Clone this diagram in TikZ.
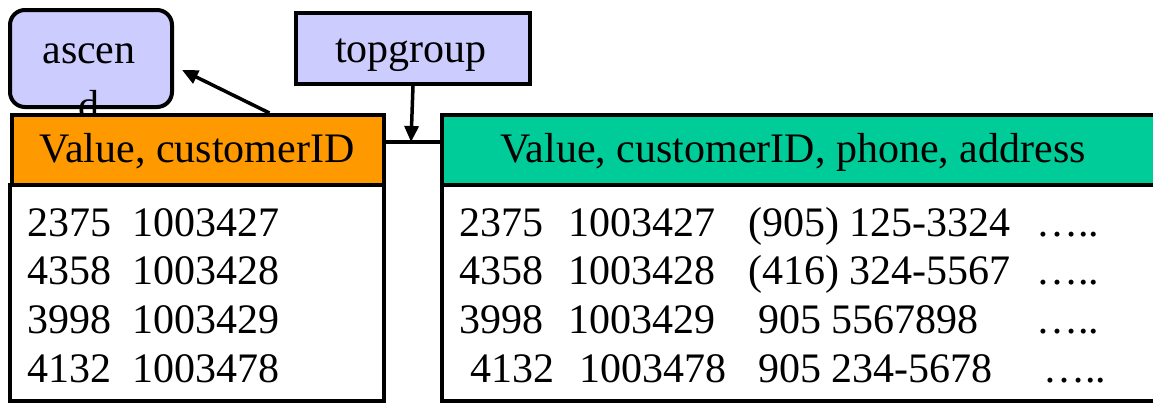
\documentclass[tikz,border=0pt]{standalone}
\usepackage{fontspec}
\setmainfont{Liberation Serif}
\usetikzlibrary{arrows.meta,calc}
\definecolor{lav}{HTML}{CCCCFF}
\definecolor{orng}{HTML}{FF9900}
\definecolor{teal2}{HTML}{00CC99}
\begin{document}
\begin{tikzpicture}[x=1pt,y=-1pt,
  every node/.style={font=\fontsize{42}{56}\selectfont, inner sep=0pt},
  box/.style={draw=black, line width=4pt, anchor=north west},
  lbl/.style={anchor=base west},
  arr/.style={line width=3.5pt, -{Triangle[length=16pt,width=14pt]}},
  ln/.style={line width=3.5pt}]
\useasboundingbox (0,0) rectangle (1153,402);
% ascend box
\node[box, fill=lav, rounded corners=15pt, minimum width=162pt, minimum height=97pt] (ascend) at (8,8) {};
\node[anchor=base] (asctxt) at (89,63) {\begin{tabular}[t]{@{}c@{}}ascen\\d\end{tabular}};
% topgroup box
\node[box, fill=lav, minimum width=234pt, minimum height=71pt] (topgroup) at (294,11) {};
\node[anchor=base] (tgtxt) at (411,62) {topgroup};
% left table
\node[box, fill=white, minimum width=374pt, minimum height=216pt] (bodyL) at (8,183) {};
\node[box, fill=orng, minimum width=372pt, minimum height=70pt] (hdrL) at (10,113) {};
\node[anchor=base] (hdrLtxt) at (197,162) {Value, customerID};
% right table
\node[box, fill=white, minimum width=730pt, minimum height=216pt] (bodyR) at (440,183) {};
\node[box, fill=teal2, minimum width=730pt, minimum height=70pt] (hdrR) at (440,113) {};
\node[anchor=base west] (hdrRtxt) at (500,162) {Value, customerID, phone, address};
% left rows
\node[lbl] (l1) at (27,236) {2375\ \ 1003427};
\node[lbl] (l2) at (27,284) {4358\ \ 1003428};
\node[lbl] (l3) at (27,333) {3998\ \ 1003429};
\node[lbl] (l4) at (27,382) {4132\ \ 1003478};
% right rows
\node[lbl] (r1a) at (459,236) {2375};
\node[lbl] (r1b) at (568,236) {1003427};
\node[lbl] (r1c) at (748,236) {(905) 125-3324};
\node[lbl] (r1d) at (1036,236) {…..};
\node[lbl] (r2a) at (459,284) {4358};
\node[lbl] (r2b) at (568,284) {1003428};
\node[lbl] (r2c) at (748,284) {(416) 324-5567};
\node[lbl] (r2d) at (1036,284) {…..};
\node[lbl] (r3a) at (459,333) {3998};
\node[lbl] (r3b) at (568,333) {1003429};
\node[lbl] (r3c) at (758,333) {905 5567898};
\node[lbl] (r3d) at (1036,333) {…..};
\node[lbl] (r4a) at (470,382) {4132};
\node[lbl] (r4b) at (579,382) {1003478};
\node[lbl] (r4c) at (758,382) {905 234-5678};
\node[lbl] (r4d) at (1043,382) {…..};
% connectors
\coordinate (j) at (411,142);
\coordinate (ascTip) at (182,70);
\draw[ln] (hdrL.east |- j) -- (hdrR.west |- j);
\draw[arr] (topgroup.south) -- (j);
\draw[arr] ($(hdrL.north west)!0.69!(hdrL.north east)$) -- (ascTip);
\end{tikzpicture}
\end{document}
